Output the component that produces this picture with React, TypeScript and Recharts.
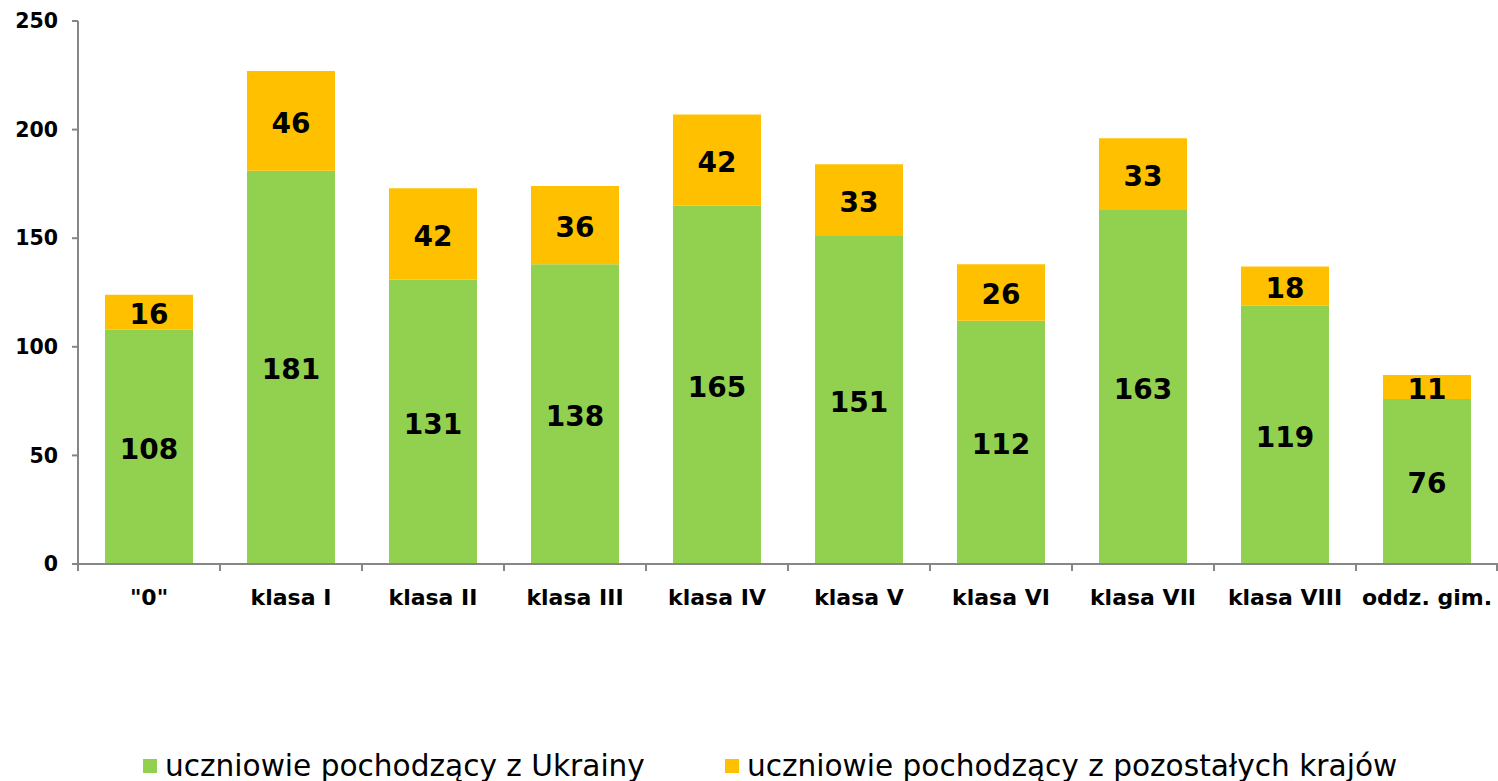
import React from 'react';
import { BarChart, Bar, XAxis, YAxis, LabelList } from 'recharts';

const categories = ['"0"', 'klasa I', 'klasa II', 'klasa III', 'klasa IV', 'klasa V', 'klasa VI', 'klasa VII', 'klasa VIII', 'oddz. gim.'];
const ukraine = [108, 181, 131, 138, 165, 151, 112, 163, 119, 76];
const others = [16, 46, 42, 36, 42, 33, 26, 33, 18, 11];
const yTicks = [0, 50, 100, 150, 200, 250];
const seriesNames = ['uczniowie pochodzący z Ukrainy', 'uczniowie pochodzący z pozostałych krajów'];
const colors = ['#92D050', '#FFC000'];

const data = categories.map((c, i) => ({ name: c, ua: ukraine[i], other: others[i] }));

const W = 1498;
const CH = 640;
const LEFT = 78;
const TOP = 21;
const XH = 76;
const BAND = (W - LEFT) / categories.length;
const FONT = '"DejaVu Sans", Verdana, sans-serif';
const AXIS = '#868686';

const XTick = (props: any) => {
  const { x, y, payload, index } = props;
  return (
    <g>
      <line x1={x - BAND / 2} x2={x - BAND / 2} y1={y} y2={y + 7} stroke={AXIS} strokeWidth={2} />
      {index === categories.length - 1 && (
        <line x1={x + BAND / 2 - 1} x2={x + BAND / 2 - 1} y1={y} y2={y + 7} stroke={AXIS} strokeWidth={2} />
      )}
      <text x={x} y={y + 41} textAnchor="middle" fontSize={22} fontWeight="bold" fill="#000" fontFamily={FONT}>
        {payload.value}
      </text>
    </g>
  );
};

export default function App() {
  return (
    <div style={{ position: 'absolute', left: 0, top: 0, width: W, height: 781, background: '#fff', fontFamily: FONT }}>
      <BarChart width={W} height={CH} data={data} margin={{ top: TOP, right: 0, left: 0, bottom: 0 }} barSize={88}>
        <YAxis
          width={LEFT}
          domain={[0, 250]}
          ticks={yTicks}
          interval={0}
          axisLine={{ stroke: AXIS, strokeWidth: 2 }}
          tickLine={{ stroke: AXIS, strokeWidth: 2 }}
          tickSize={6}
          tickMargin={14}
          tick={{ fontSize: 20.5, fontWeight: 'bold', fill: '#000', fontFamily: FONT }}
        />
        <XAxis
          dataKey="name"
          height={XH}
          interval={0}
          axisLine={{ stroke: AXIS, strokeWidth: 2 }}
          tickLine={false}
          tickSize={0}
          tickMargin={0}
          tick={<XTick />}
        />
        <Bar dataKey="ua" stackId="a" fill={colors[0]} isAnimationActive={false}>
          <LabelList dataKey="ua" position="center" offset={0} dy={2} fontSize={28} fontWeight="bold" fill="#000" fontFamily={FONT} />
        </Bar>
        <Bar dataKey="other" stackId="a" fill={colors[1]} isAnimationActive={false}>
          <LabelList dataKey="other" position="center" offset={0} dy={2} fontSize={28} fontWeight="bold" fill="#000" fontFamily={FONT} />
        </Bar>
      </BarChart>
      <div style={{ position: 'absolute', left: 143, top: 749, display: 'flex', alignItems: 'center', fontSize: 29.6, lineHeight: '34px', color: '#000', whiteSpace: 'nowrap' }}>
        {seriesNames.map((n, i) => (
          <div key={n} style={{ display: 'flex', alignItems: 'center', marginRight: i === 0 ? 80 : 0 }}>
            <span style={{ display: 'inline-block', width: 14, height: 14, background: colors[i], marginRight: 8 }} />
            <span>{n}</span>
          </div>
        ))}
      </div>
    </div>
  );
}
